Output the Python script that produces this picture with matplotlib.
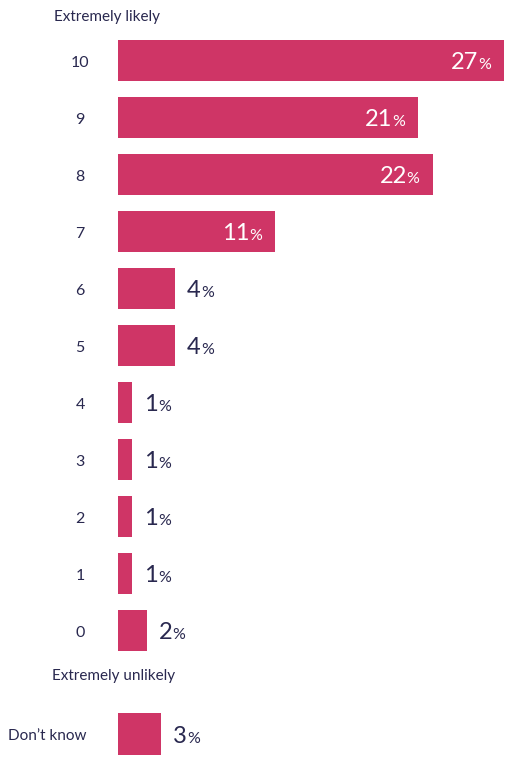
import matplotlib
matplotlib.use("Agg")
import matplotlib.pyplot as plt

# survey answers, top to bottom
categories = ["10", "9", "8", "7", "6", "5", "4", "3", "2", "1", "0"]
values = [27, 21, 22, 11, 4, 4, 1, 1, 1, 1, 2]
dont_know_label = "Don't know"
dont_know_value = 3
top_note = "Extremely likely"
bottom_note = "Extremely unlikely"

BAR = "#CF3566"
NAVY = "#29284F"
FONT = "Lato"

fig = plt.figure(figsize=(5.1, 7.65), dpi=100)
ax = fig.add_axes([0, 0, 1, 1])
ax.set_axis_off()

# data x -> pixel: 118 + 14.3*v ; rows are 57px apart starting at 60.5px
px_per = 14.3
ax.set_xlim(-118 / px_per, (510 - 118) / px_per)
ax.set_ylim((765 - 60.5) / 57, -60.5 / 57)

rows = list(range(len(categories)))
dk_row = (734 - 60.5) / 57
all_rows = rows + [dk_row]
all_vals = values + [dont_know_value]
all_labels = categories + [dont_know_label.replace("'", "\u2019")]

ax.barh(all_rows, all_vals, height=0.72, color=BAR, left=0)

renderer = fig.canvas.get_renderer()
label_x = -38 / px_per
for r, lab in zip(all_rows, all_labels):
    if lab.isdigit():
        ax.text(label_x, r + 0.04, lab, ha="center", va="center", fontsize=11.5,
                color=NAVY, family=FONT)
    else:
        ax.text(-31 / px_per, r + 0.04, lab, ha="right", va="center", fontsize=11,
                color=NAVY, family=FONT)

for r, v in zip(all_rows, all_vals):
    inside = v >= 10
    col = "white" if inside else NAVY
    num = ax.text(0, r, str(v), ha="left", va="baseline", fontsize=17,
                  color=col, family=FONT)
    pct = ax.text(0, r, "%", ha="left", va="baseline", fontsize=11.5,
                  color=col, family=FONT)
    wn = num.get_window_extent(renderer).width
    wp = pct.get_window_extent(renderer).width
    total = (wn + wp) / px_per
    if inside:
        start = v - 13 / px_per - total
    else:
        start = v + 12 / px_per
    num.set_x(start)
    pct.set_x(start + wn / px_per)
    num.set_y(r + 0.15)
    pct.set_y(r + 0.15)

ax.text(54 / px_per - 118 / px_per, (17 - 60.5) / 57, top_note, ha="left",
        va="center", fontsize=11, color=NAVY, family=FONT)
ax.text(52 / px_per - 118 / px_per, (676 - 60.5) / 57, bottom_note, ha="left",
        va="center", fontsize=11, color=NAVY, family=FONT)

fig.savefig("out.png", dpi=100)
